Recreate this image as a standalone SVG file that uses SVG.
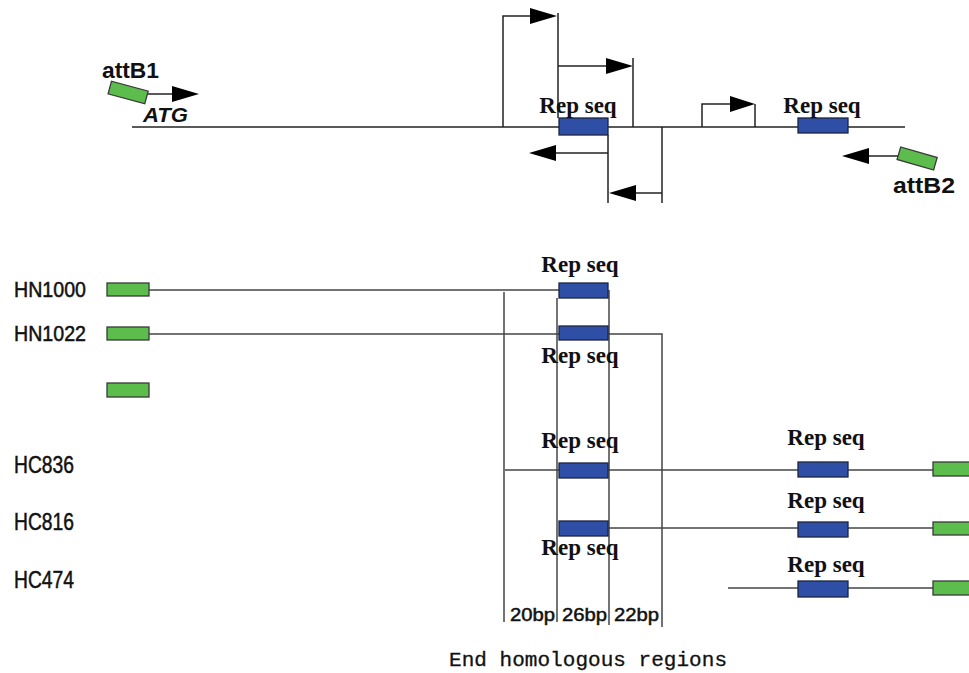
<svg xmlns="http://www.w3.org/2000/svg" width="969" height="673" viewBox="0 0 969 673">
<style>
.ln{stroke:#222;stroke-width:1.5;fill:none}
.gl{stroke:#444;stroke-width:1.5;fill:none}
.g{fill:#5cbd4c;stroke:#3a3a3a;stroke-width:1.3}
.b{fill:#2f4fa6;stroke:#1d2440;stroke-width:1.3}
.rep{font-family:"Liberation Serif",serif;font-weight:bold;font-size:23px;text-anchor:middle;fill:#111}
.lab{font-family:"Liberation Sans",sans-serif;fill:#111}
.nm{stroke:#111;stroke-width:0.5}
.ah{fill:#000}
</style>
<rect width="969" height="673" fill="#fff"/>
<g id="connectors">
<line class="ln" x1="132" y1="127" x2="905" y2="127"/>
<line class="ln" x1="147" y1="94" x2="176" y2="94"/><polygon class="ah" points="172,86 199,94 172,102"/>
<polyline class="ln" points="503,127 503,16 532,16"/><polygon class="ah" points="530,8 557,16 530,24"/>
<line class="ln" x1="558" y1="13" x2="558" y2="118"/>
<polyline class="ln" points="558,66 610,66"/><polygon class="ah" points="606,58 633,66 606,74"/>
<line class="ln" x1="633" y1="58" x2="633" y2="127"/>
<line class="ln" x1="608" y1="135" x2="608" y2="203"/>
<line class="ln" x1="553" y1="153" x2="608" y2="153"/><polygon class="ah" points="556,145 529,153 556,161"/>
<line class="ln" x1="662" y1="127" x2="662" y2="203"/>
<line class="ln" x1="633" y1="193" x2="662" y2="193"/><polygon class="ah" points="636,185 609,193 636,201"/>
<polyline class="ln" points="702,127 702,104 735,104"/><polygon class="ah" points="730,96 755,104 730,112"/>
<line class="ln" x1="755" y1="104" x2="755" y2="127"/>
<line class="ln" x1="867" y1="156" x2="901" y2="156"/><polygon class="ah" points="869,148 842,156 869,164"/>
<line class="gl" x1="149" y1="290" x2="559" y2="290"/>
<line class="gl" x1="149" y1="334" x2="559" y2="334"/>
<polyline class="gl" points="608,334 662,334 662,627"/>
<line class="gl" x1="504" y1="292" x2="504" y2="622"/>
<line class="gl" x1="557" y1="298" x2="557" y2="622"/>
<line class="gl" x1="609" y1="290" x2="609" y2="625"/>
<line class="gl" x1="505" y1="470" x2="933" y2="470"/>
<line class="gl" x1="608" y1="528" x2="933" y2="528"/>
<line class="gl" x1="728" y1="588" x2="933" y2="588"/>
</g>
<g id="attB1">
<rect class="g" x="109" y="86" width="38" height="13" transform="rotate(15 128 93)"/>
<text class="lab" x="102" y="78" font-size="22" font-weight="bold" textLength="57" lengthAdjust="spacingAndGlyphs">attB1</text>
<text class="lab" x="143" y="122" font-size="20" font-weight="bold" font-style="italic" textLength="45" lengthAdjust="spacingAndGlyphs">ATG</text>
</g>
<g id="attB2">
<rect class="g" x="898" y="152" width="38" height="13" transform="rotate(16 917 159)"/>
<text class="lab" x="893" y="193" font-size="22" font-weight="bold" textLength="62" lengthAdjust="spacingAndGlyphs">attB2</text>
</g>
<g id="top-rep1"><rect class="b" x="559" y="118" width="49" height="17"/><text class="rep" x="578" y="113">Rep seq</text></g>
<g id="top-rep2"><rect class="b" x="798" y="118" width="50" height="15"/><text class="rep" x="822" y="113">Rep seq</text></g>
<g id="HN1000">
<text class="lab nm" x="14" y="297" font-size="22" textLength="72" lengthAdjust="spacingAndGlyphs">HN1000</text>
<rect class="g" x="107" y="283" width="42" height="13"/>
<rect class="b" x="559" y="283" width="49" height="15"/>
<text class="rep" x="580" y="272">Rep seq</text>
</g>
<g id="HN1022">
<text class="lab nm" x="14" y="341" font-size="22" textLength="72" lengthAdjust="spacingAndGlyphs">HN1022</text>
<rect class="g" x="107" y="327" width="42" height="13"/>
<rect class="b" x="559" y="326" width="49" height="14"/>
<text class="rep" x="580" y="363">Rep seq</text>
</g>
<g id="green3"><rect class="g" x="107" y="383" width="42" height="14"/></g>
<g id="HC836">
<text class="lab nm" x="14" y="473" font-size="24" textLength="60" lengthAdjust="spacingAndGlyphs">HC836</text>
<rect class="b" x="559" y="463" width="49" height="15"/>
<text class="rep" x="580" y="448">Rep seq</text>
<rect class="b" x="798" y="462" width="50" height="15"/>
<text class="rep" x="826" y="445">Rep seq</text>
<rect class="g" x="933" y="462" width="40" height="14"/>
</g>
<g id="HC816">
<text class="lab nm" x="14" y="530" font-size="24" textLength="60" lengthAdjust="spacingAndGlyphs">HC816</text>
<rect class="b" x="559" y="521" width="49" height="15"/>
<text class="rep" x="580" y="555">Rep seq</text>
<rect class="b" x="798" y="522" width="50" height="15"/>
<text class="rep" x="826" y="508">Rep seq</text>
<rect class="g" x="933" y="522" width="40" height="13"/>
</g>
<g id="HC474">
<text class="lab nm" x="14" y="588" font-size="24" textLength="60" lengthAdjust="spacingAndGlyphs">HC474</text>
<rect class="b" x="798" y="581" width="50" height="16"/>
<text class="rep" x="826" y="572">Rep seq</text>
<rect class="g" x="933" y="581" width="40" height="14"/>
</g>
<g id="bp-labels" class="lab nm" font-size="18">
<text x="510" y="621" textLength="45" lengthAdjust="spacingAndGlyphs">20bp</text>
<text x="562" y="621" textLength="45" lengthAdjust="spacingAndGlyphs">26bp</text>
<text x="614" y="621" textLength="45" lengthAdjust="spacingAndGlyphs">22bp</text>
</g>
<g id="caption"><text x="449" y="666" font-family="'Liberation Mono',monospace" font-size="21" fill="#111" stroke="#111" stroke-width="0.3" textLength="278">End homologous regions</text></g>
</svg>
